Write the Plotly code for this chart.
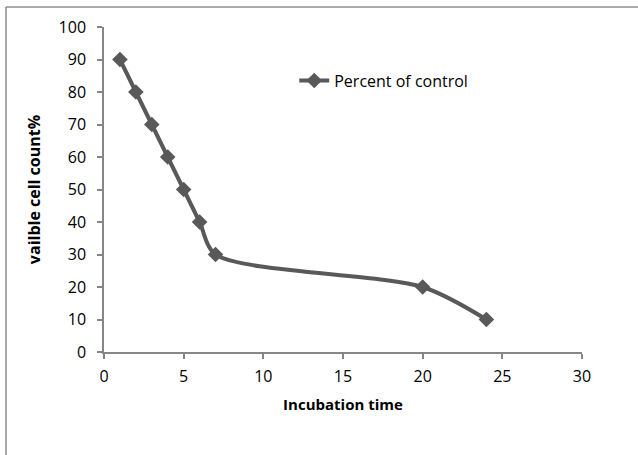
import plotly.graph_objects as go

time_h = [1, 2, 3, 4, 5, 6, 7, 20, 24]
percent_control = [90, 80, 70, 60, 50, 40, 30, 20, 10]
series_name = "Percent of control"
x_title = "Incubation time"
y_title = "vailble cell count%"
x_ticks = [0, 5, 10, 15, 20, 25, 30]
y_ticks = [0, 10, 20, 30, 40, 50, 60, 70, 80, 90, 100]

line_color = "#595959"
axis_color = "#868686"
font_family = "Open Sans, Noto Sans, Arial"

fig = go.Figure()
fig.add_trace(go.Scatter(
    x=time_h, y=percent_control, name=series_name,
    mode="lines+markers",
    line=dict(color=line_color, width=4, shape="spline", smoothing=0.8),
    marker=dict(symbol="diamond", size=12, color=line_color),
))

fig.update_layout(
    width=638, height=455,
    margin=dict(l=104, r=56, t=27, b=103),
    paper_bgcolor="white", plot_bgcolor="white",
    font=dict(family=font_family, size=16, color="#000000"),
    showlegend=True,
    legend=dict(x=0.398, y=0.835, xanchor="left", yanchor="middle",
                bgcolor="rgba(0,0,0,0)", font=dict(size=16)),
    xaxis=dict(
        range=[0, 30], tickvals=x_ticks, showgrid=False, zeroline=False,
        showline=True, linecolor=axis_color, linewidth=1.5,
        ticks="outside", ticklen=5, tickcolor=axis_color, tickwidth=1.5,
        tickfont=dict(size=16), ticklabelstandoff=4,
        title=dict(text="<b>" + x_title + "</b>", font=dict(size=15), standoff=14),
        automargin=False,
    ),
    yaxis=dict(
        range=[0, 100], tickvals=y_ticks, showgrid=False, zeroline=False,
        showline=True, linecolor=axis_color, linewidth=1.5,
        ticks="outside", ticklen=5, tickcolor=axis_color, tickwidth=1.5,
        tickfont=dict(size=16), ticklabelstandoff=8,
        title=dict(text="<b>" + y_title + "</b>", font=dict(size=16), standoff=14),
        automargin=False,
    ),
    shapes=[
        dict(type="line", xref="paper", yref="paper",
             x0=-0.205, x1=1.12, y0=1.0615, y1=1.0615,
             line=dict(color="#8c8c8c", width=1.5)),
        dict(type="line", xref="paper", yref="paper",
             x0=-0.205, x1=-0.205, y0=1.0615, y1=-0.33,
             line=dict(color="#8c8c8c", width=1.5)),
    ],
)

fig.write_html("out.html", config={"displayModeBar": False},
               post_script="document.body.style.margin='0';")
